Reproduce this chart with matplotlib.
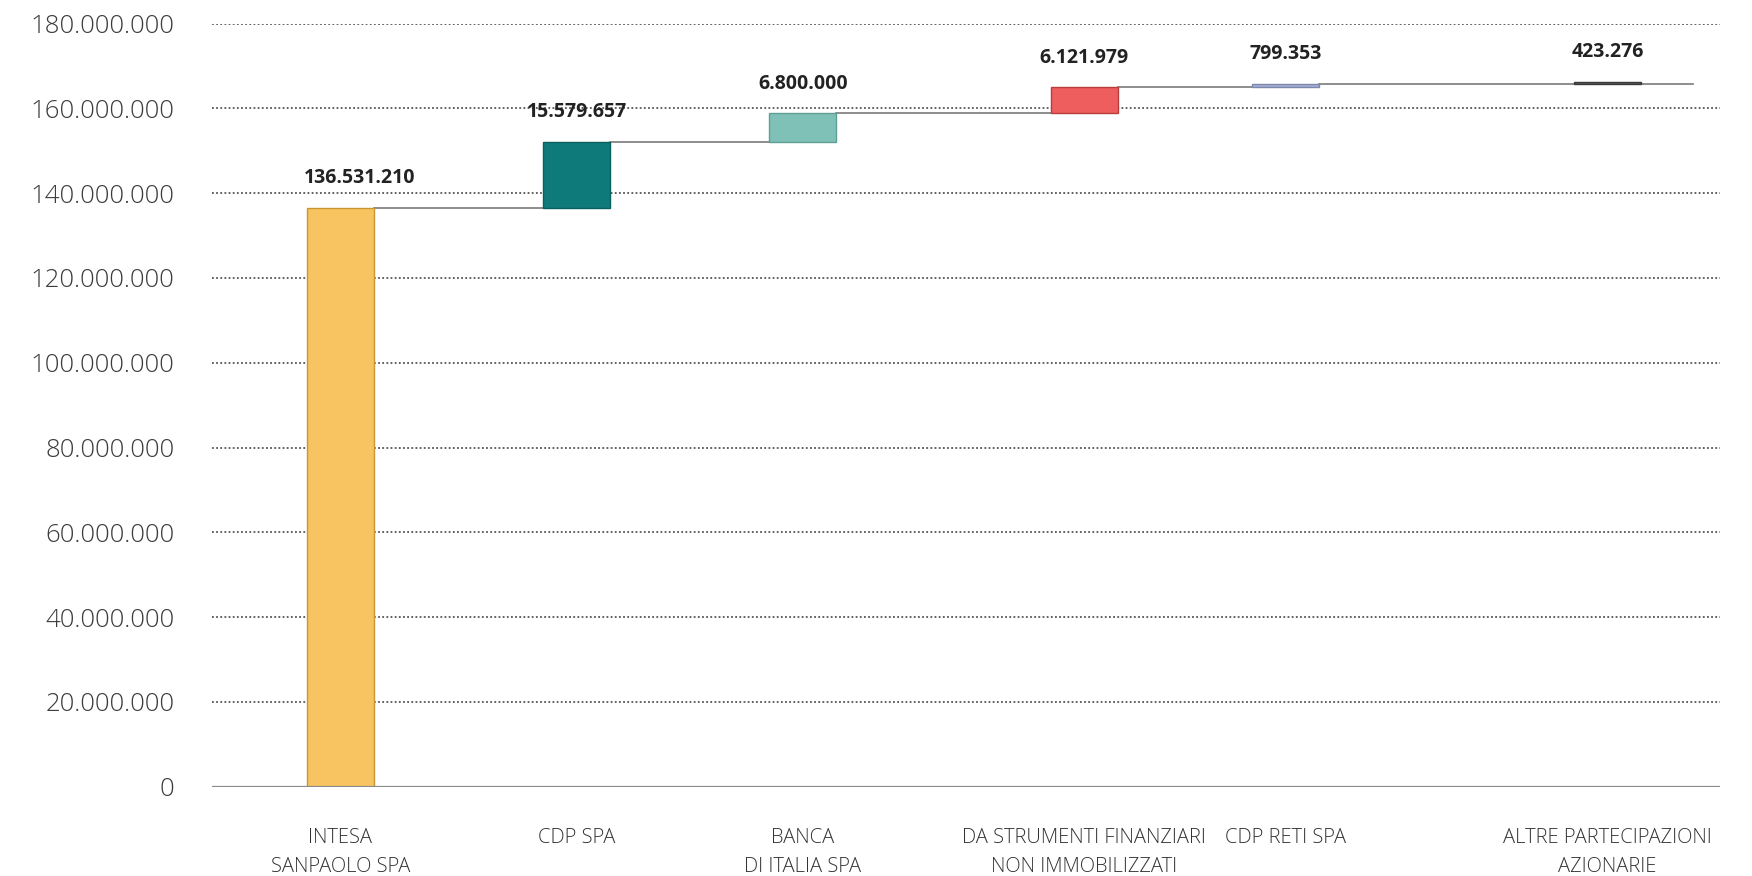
import matplotlib
matplotlib.use("Agg")
import matplotlib.pyplot as plt
import numpy as np

# data
categories = [
    "INTESA\nSANPAOLO SPA",
    "CDP SPA",
    "BANCA\nDI ITALIA SPA",
    "DA STRUMENTI FINANZIARI\nNON IMMOBILIZZATI",
    "CDP RETI SPA",
    "ALTRE PARTECIPAZIONI\nAZIONARIE",
]
values = [136531210, 15579657, 6800000, 6121979, 799353, 423276]
y_ticks = [0, 20000000, 40000000, 60000000, 80000000,
           100000000, 120000000, 140000000, 160000000, 180000000]

# layout / style
xpos = [0.51, 1.45, 2.35, 3.47, 4.27, 5.55]
bar_w = 0.266
label_dx = [14, 0, 0, 0, 0, 0]   # small horizontal nudges of the value labels (points)
colors = ["#F8C462", "#0F7A7A", "#7FC1B6", "#EE5E5E", "#A7B0D2", "#5A5A5A"]
edges = ["#C9962F", "#0A5F5F", "#5E9F95", "#B83E3E", "#7E88AE", "#3A3A3A"]

plt.rcParams["font.family"] = ["Open Sans", "DejaVu Sans"]


def fmt(v):
    return f"{int(v):,}".replace(",", ".")


fig = plt.figure(figsize=(17.52, 8.76), dpi=100)
ax = fig.add_axes([0.121, 0.102, 0.861, 0.871])

bottoms = np.concatenate([[0], np.cumsum(values)[:-1]])
tops = bottoms + np.array(values)

ax.bar(xpos, values, bottom=bottoms, width=bar_w, color=colors,
       edgecolor=edges, linewidth=1.0, zorder=3)

# connectors between bars
for i in range(len(values) - 1):
    x0 = xpos[i] + bar_w / 2
    x1 = xpos[i + 1] - bar_w / 2
    if i == len(values) - 2:
        x1 = 5.89
    ax.plot([x0, x1], [tops[i], tops[i]], color="#7a7a7a", lw=1.2, zorder=2)

# value labels
for x, t, v, dx in zip(xpos, tops, values, label_dx):
    ax.annotate(fmt(v), (x, t), xytext=(dx, 14), textcoords="offset points",
                ha="center", va="bottom", fontsize=14, fontweight="bold",
                color="#222222")

ax.set_xlim(0, 6)
ax.set_ylim(0, 180000000)
ax.set_yticks(y_ticks)
ax.set_yticklabels([fmt(t) for t in y_ticks], fontsize=18.5, color="#3c3c3c",
                   fontweight="light")
ax.set_xticks(xpos)
ax.set_xticklabels(categories, fontsize=14.5, color="#333333", linespacing=1.55,
                   fontweight="light")
ax.tick_params(axis="both", length=0)
ax.tick_params(axis="y", pad=27)
ax.tick_params(axis="x", pad=30)

for s in ax.spines.values():
    s.set_visible(False)

# dotted gridlines
for t in y_ticks[1:]:
    ax.axhline(t, color="#555555", lw=1.3, linestyle=(0, (1, 1.3)), zorder=1)
ax.axhline(0, color="#8a8a8a", lw=1.6, zorder=4)

fig.savefig("out.png", dpi=100)
